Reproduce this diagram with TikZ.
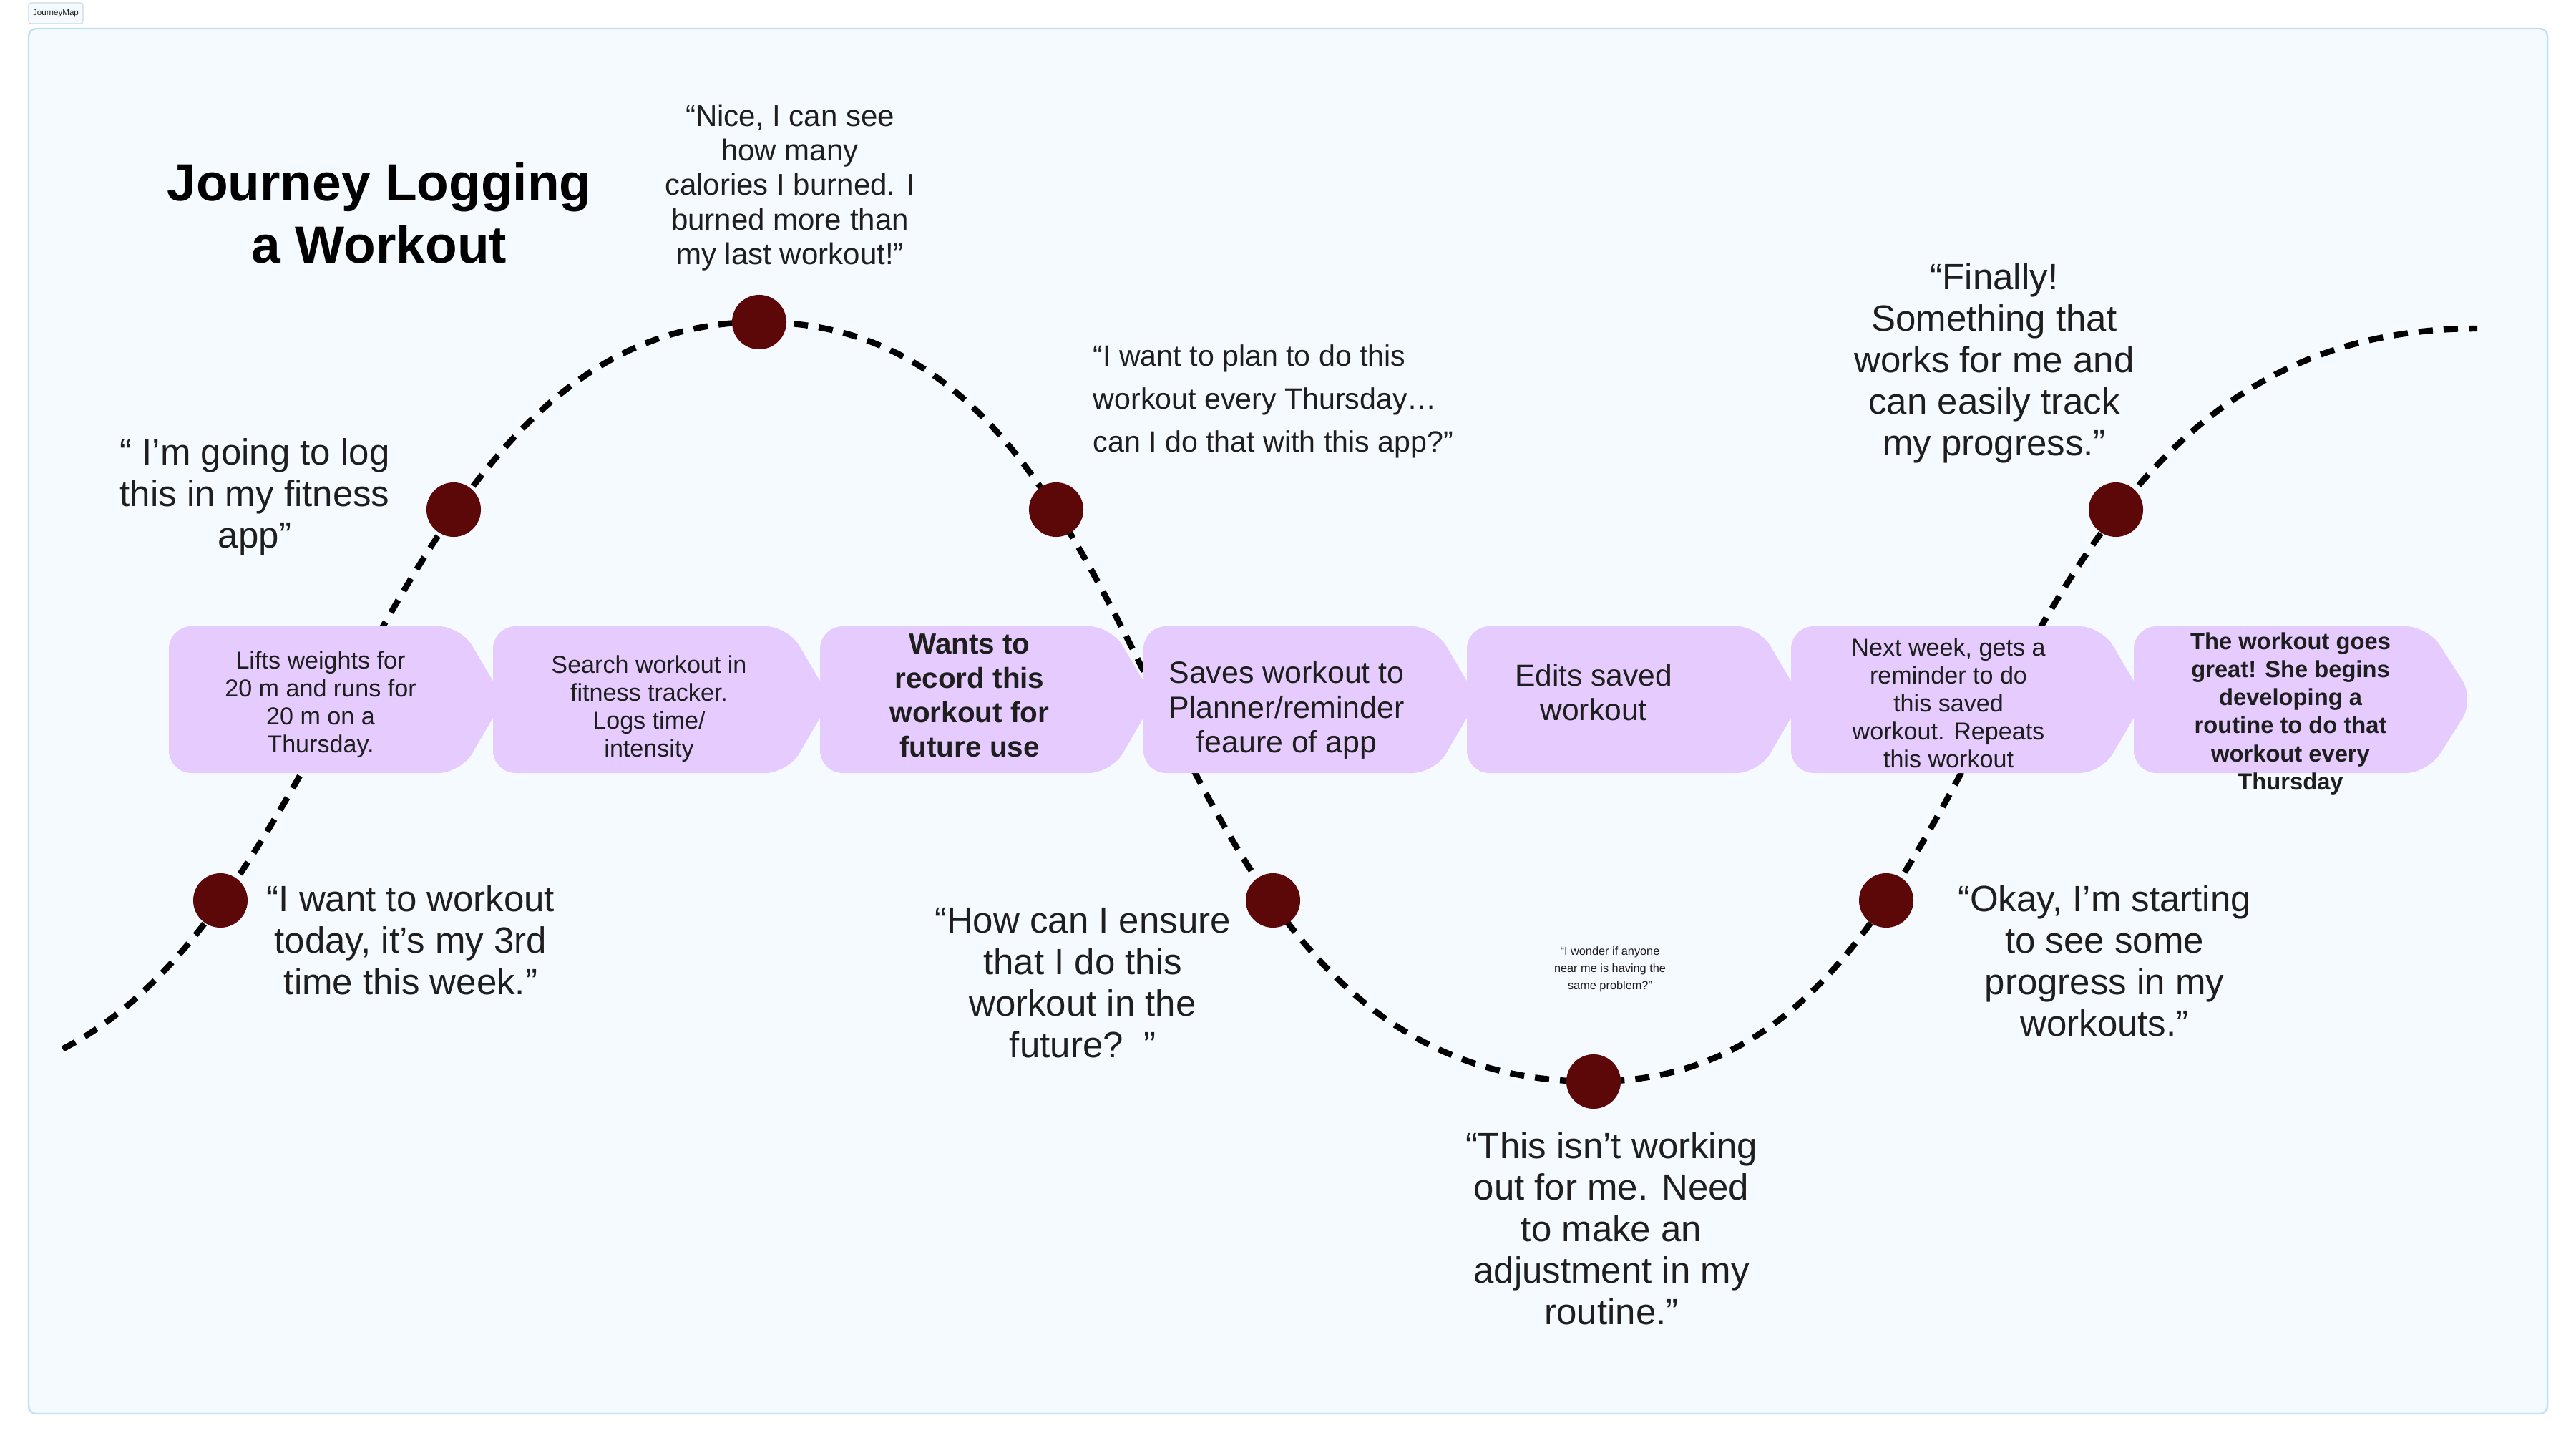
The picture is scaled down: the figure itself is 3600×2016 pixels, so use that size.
\documentclass[tikz,border=0pt]{standalone}
\usepackage{fontspec}
\setmainfont{Liberation Sans}
\definecolor{bgc}{HTML}{F5FAFF}
\definecolor{framec}{HTML}{BFE1F8}
\definecolor{boxc}{HTML}{E6CCFE}
\definecolor{dotc}{HTML}{5C0808}
\definecolor{txtc}{HTML}{1E1E1E}
\definecolor{tagline}{HTML}{D3D8DE}
\begin{document}
\begin{tikzpicture}[x=0.01cm,y=-0.01cm,
  dot/.style={circle,fill=dotc,minimum size=0.76cm,inner sep=0pt},
  quote/.style={text=txtc,align=center,inner sep=0pt,font={\fontsize{14.5pt}{16.5pt}\selectfont}},
  boxtext/.style={text=txtc,align=center,inner sep=0pt},
  chev/.style={fill=boxc,rounded corners=9pt},
  wave/.style={line width=2.4pt,dash pattern=on 5.7pt off 4.3pt}]
\fill[white] (0,0) rectangle (3600,2016);
\useasboundingbox (0,0) rectangle (3600,2016);
% frame
\draw[draw=framec,fill=bgc,line width=0.7pt,rounded corners=3pt] (40,40) rectangle (3560,1975);
\node[draw=tagline,fill=bgc,rounded corners=1pt,line width=0.3pt,minimum width=0.76cm,minimum height=0.29cm,inner sep=0pt,text=txtc,font={\fontsize{3.3pt}{4pt}\selectfont}] (tag) at (78,18.5) {JourneyMap};
% title
\node[text=black,align=center,inner sep=0pt,font={\fontsize{20.8pt}{24.75pt}\selectfont\bfseries}] (title) at (530,298) {Journey Logging\\a Workout};
% wave
\coordinate (w0) at (87.7,1465.4);
\coordinate (w1) at (1061,450);
\coordinate (w2) at (2227,1511);
\coordinate (w3) at (3462,459);
\draw[wave] (w0) .. controls (484.6,1262.4) and (550,450) .. (w1)
  .. controls (1666,450) and (1557,1511) .. (w2)
  .. controls (2827,1511) and (2721,459) .. (w3);
% boxes
\fill[chev] (236,875) -- (644,875) -- (704,977) -- (644,1080) -- (236,1080) -- cycle;
\fill[chev] (689,875) -- (1101,875) -- (1161,977) -- (1101,1080) -- (689,1080) -- cycle;
\fill[chev] (1146,875) -- (1553,875) -- (1613,977) -- (1553,1080) -- (1146,1080) -- cycle;
\fill[chev] (1598,875) -- (2005,875) -- (2065,977) -- (2005,1080) -- (1598,1080) -- cycle;
\fill[chev] (2050,875) -- (2458,875) -- (2518,977) -- (2458,1080) -- (2050,1080) -- cycle;
\fill[chev] (2503,875) -- (2937,875) -- (2997,977) -- (2937,1080) -- (2503,1080) -- cycle;
\fill[chev] (2982,875) -- (3393,875) -- (3458,977) -- (3393,1080) -- (2982,1080) -- cycle;
% box texts
\node[boxtext,font={\fontsize{9.7pt}{11.1pt}\selectfont}] (b1) at (448,984) {Lifts weights for\\20 m and runs for\\20 m on a\\Thursday.};
\node[boxtext,font={\fontsize{9.7pt}{11.1pt}\selectfont}] (b2) at (907,990) {Search workout in\\fitness tracker.\\Logs time/\\intensity};
\node[boxtext,font={\fontsize{11.5pt}{13.7pt}\selectfont\bfseries}] (b3) at (1355,972) {Wants to\\record this\\workout for\\future use};
\node[boxtext,font={\fontsize{12.2pt}{13.7pt}\selectfont}] (b4) at (1798,992) {Saves workout to\\Planner/reminder\\feaure of app};
\node[boxtext,font={\fontsize{12.1pt}{13.7pt}\selectfont}] (b5) at (2227,967) {Edits saved\\workout};
\node[boxtext,font={\fontsize{9.7pt}{11.1pt}\selectfont}] (b6) at (2723,982) {Next week, gets a\\reminder to do\\this saved\\workout. Repeats\\this workout};
\node[boxtext,font={\fontsize{9.3pt}{11.1pt}\selectfont\bfseries}] (b7) at (3201,997) {The workout goes\\great! She begins\\developing a\\routine to do that\\workout every\\Thursday};
% dots
\node[dot] (d1) at (308,1258) {};
\node[dot] (d2) at (634,712) {};
\node[dot] (d3) at (1061,450) {};
\node[dot] (d4) at (1476,712) {};
\node[dot] (d5) at (1779,1258) {};
\node[dot] (d6) at (2227,1511) {};
\node[dot] (d7) at (2636,1258) {};
\node[dot] (d8) at (2957,712) {};
% quotes
\node[quote] (q2) at (356,694) {“ I’m going to log\\this in my fitness\\app”};
\node[quote,font={\fontsize{11.95pt}{13.7pt}\selectfont}] (q3) at (1104,262) {“Nice, I can see\\how many\\calories I burned. I\\burned more than\\my last workout!”};
\node[quote,align=left,anchor=west,font={\fontsize{11.7pt}{17pt}\selectfont}] (q4) at (1527,561) {“I want to plan to do this\\workout every Thursday…\\can I do that with this app?”};
\node[quote] (q8) at (2787,507) {“Finally!\\Something that\\works for me and\\can easily track\\my progress.”};
\node[quote] (q1) at (574,1313) {“I want to workout\\today, it’s my 3rd\\time this week.”};
\node[quote] (q5) at (1513,1373) {“How can I ensure\\that I do this\\workout in the\\future?~~”};
\node[quote,font={\fontsize{4.64pt}{6.8pt}\selectfont}] (qs) at (2250,1354) {“I wonder if anyone\\near me is having the\\same problem?”};
\node[quote] (q6) at (2252,1716) {“This isn’t working\\out for me. Need\\to make an\\adjustment in my\\routine.”};
\node[quote] (q7) at (2941,1342) {“Okay, I’m starting\\to see some\\progress in my\\workouts.”};
\end{tikzpicture}
\end{document}
